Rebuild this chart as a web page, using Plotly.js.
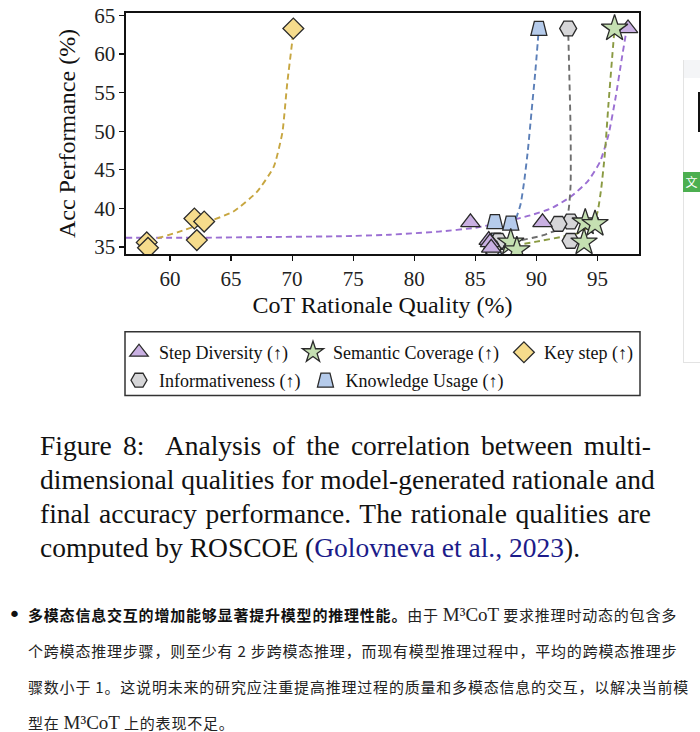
<!DOCTYPE html>
<html>
<head>
<meta charset="utf-8">
<script src="https://cdn.plot.ly/plotly-3.0.1.min.js"></script>
<style>
  html, body { margin:0; padding:0; background:#fff; width:700px; height:732px; overflow:hidden; }
  #chart { position:absolute; left:0; top:0; width:700px; height:410px; }
  #caption { position:absolute; left:40px; top:429px; width:611px; font-family:"Liberation Serif","Times New Roman",serif; font-size:27.5px; line-height:34px; color:#111; }
  #caption div { text-align:justify; text-align-last:justify; white-space:nowrap; }
  #caption div.last { text-align-last:left; }
  #caption .cite { color:#1c1c8a; }
  #para { position:absolute; left:28px; top:597px; width:660px; font-family:"Noto Sans CJK SC","Noto Sans",sans-serif; font-size:15px; line-height:36px; color:#222; letter-spacing:0.8px; }
  #para div { white-space:nowrap; }
  #para b { font-weight:700; color:#111; }
  #para .m { font-family:"Liberation Serif","Times New Roman",serif; font-size:19px; letter-spacing:0; margin:0 4px; }
  #bullet { position:absolute; left:8px; top:597px; font-size:22px; line-height:36px; font-family:"DejaVu Sans",sans-serif; color:#111; }
  .side { position:absolute; }
</style>
</head>
<body>
<div id="chart"></div>

<!-- right-side UI strip of the screenshot -->
<div class="side" style="left:683px; top:60px; width:17px; height:302px; border-left:1px solid #e3e3e3; border-bottom:1px solid #e3e3e3; background:#fff;"></div>
<div class="side" style="left:684px; top:60px; width:16px; height:18px; background:#f4f5f7;"></div>
<div class="side" style="left:698px; top:92px; width:2px; height:40px; background:#111;"></div>
<div class="side" style="left:683px; top:172px; width:17px; height:20px; background:#4caf50; color:#fff; font-family:'Noto Sans CJK SC',sans-serif; font-size:12px; line-height:20px; text-align:center;">文</div>

<div id="caption">
  <div>Figure 8:&nbsp; Analysis of the correlation between multi-</div>
  <div>dimensional qualities for model-generated rationale and</div>
  <div>final accuracy performance. The rationale qualities are</div>
  <div class="last">computed by ROSCOE (<span class="cite">Golovneva et al., 2023</span>).</div>
</div>

<div id="bullet">•</div>
<div id="para">
  <div><b>多模态信息交互的增加能够显著提升模型的推理性能。</b>由于<span class="m">M³CoT</span>要求推理时动态的包含多</div>
  <div>个跨模态推理步骤，则至少有 2 步跨模态推理，而现有模型推理过程中，平均的跨模态推理步</div>
  <div>骤数小于 1。这说明未来的研究应注重提高推理过程的质量和多模态信息的交互，以解决当前模</div>
  <div>型在<span class="m">M³CoT</span>上的表现不足。</div>
</div>

<script>
// ---------------- data ----------------
const seriesNames = ["Step Diversity (↑)", "Semantic Coverage (↑)", "Key step (↑)", "Informativeness (↑)", "Knowledge Usage (↑)"];

// scatter points: CoT rationale quality (x) vs accuracy (y)
const stepX = [97.5, 90.5, 84.6, 86.1, 86.2, 86.3];
const stepY = [63.3, 38.2, 38.2, 35.9, 35.6, 34.9];
const semX  = [96.4, 94.0, 94.8, 93.9, 87.9, 88.4];
const semY  = [63.3, 38.2, 38.0, 35.6, 35.6, 34.6];
const keyX  = [70.1, 62.0, 62.8, 62.2, 58.1, 58.2];
const keyY  = [63.3, 38.7, 38.3, 35.9, 35.6, 34.9];
const infoX = [92.6, 92.8, 91.8, 92.8, 86.9, 86.4];
const infoY = [63.3, 38.3, 38.0, 35.8, 35.8, 34.8];
const knowX = [90.2, 86.6, 87.9, 86.7, 86.6, 86.5];
const knowY = [63.3, 38.3, 38.1, 35.9, 35.6, 34.9];

// fitted dashed curves
const stepFitX = [56.4, 62, 68, 74, 78, 82, 85, 87.5, 89.5, 91.2, 92.8, 94.2, 95.2, 95.9, 96.5, 97.0, 97.4];
const stepFitY = [36.2, 36.2, 36.3, 36.4, 36.6, 37.0, 37.5, 38.3, 39.1, 40.0, 41.5, 43.5, 46.0, 49.5, 54.5, 59.5, 63.3];
const semFitX  = [88.2, 90.0, 92.0, 93.6, 94.6, 95.0, 95.3, 95.6, 95.9, 96.2, 96.4];
const semFitY  = [35.2, 35.7, 36.3, 36.9, 38.0, 39.5, 42.5, 47.0, 53.5, 59.5, 63.3];
const keyFitX  = [58.2, 58.9, 60.6, 63.0, 65.2, 67.1, 68.5, 69.2, 69.6, 70.0, 70.1];
const keyFitY  = [35.8, 36.1, 36.9, 38.2, 39.6, 42.1, 45.4, 49.8, 56.2, 61.5, 63.3];
const infoFitX = [86.4, 88.5, 90.5, 92.0, 92.6, 92.8, 92.8, 92.7, 92.6];
const infoFitY = [35.2, 35.8, 36.5, 37.5, 39.5, 43.0, 50.0, 57.0, 63.3];
const knowFitX = [87.9, 88.3, 88.7, 89.0, 89.3, 89.6, 89.9, 90.2];
const knowFitY = [37.6, 38.6, 40.5, 43.5, 47.5, 52.5, 57.5, 63.3];

const xTicks = [60, 65, 70, 75, 80, 85, 90, 95];
const yTicks = [35, 40, 45, 50, 55, 60, 65];

// ---------------- styles ----------------
const fill = { step:"#c9b0e2", sem:"#c5e0b2", key:"#f6dc8c", info:"#d6d6d8", know:"#b5cbeb" };
const lineC = { step:"#9b6fd3", sem:"#8a9a42", key:"#c7a640", info:"#6e6e6e", know:"#5b7fb8" };
const mline = { color:"#2a2a2a", width:1.3 };

function fit(x, y, c) {
  return { x:x, y:y, type:"scatter", mode:"lines", showlegend:false, hoverinfo:"skip",
           line:{ color:c, width:1.9, dash:"6px,4px", shape:"spline", smoothing:0.5 } };
}
function pts(name, x, y, sym, f, size, rank, leg) {
  return { x:x, y:y, type:"scatter", mode:"markers", name:name, legendrank:rank, legend:leg,
           marker:{ symbol:sym, size:size, color:f, line:mline } };
}

const data = [
  fit(stepFitX, stepFitY, lineC.step),
  fit(semFitX, semFitY, lineC.sem),
  fit(keyFitX, keyFitY, lineC.key),
  fit(infoFitX, infoFitY, lineC.info),
  fit(knowFitX, knowFitY, lineC.know),
  pts(seriesNames[4], knowX, knowY, "square", fill.know, 14, 2, "legend2"),
  pts(seriesNames[3], infoX, infoY, "hexagon2", fill.info, 17, 1, "legend2"),
  pts(seriesNames[0], stepX, stepY, "triangle-up", fill.step, 17, 1, "legend"),
  pts(seriesNames[1], semX, semY, "star", fill.sem, 20, 2, "legend"),
  pts(seriesNames[2], keyX, keyY, "diamond", fill.key, 16, 3, "legend")
];

const serif = "Liberation Serif, Times New Roman, serif";
const legFont = { family:serif, size:18, color:"#111" };
const legX = (119 - 126) / 513;
const layout = {
  width:700, height:410,
  margin:{ l:126, r:61, t:13, b:155 },
  paper_bgcolor:"rgba(0,0,0,0)", plot_bgcolor:"#fff",
  font:{ family:serif, color:"#111" },
  xaxis:{ range:[56.4, 98.4], tickvals:xTicks, ticks:"outside", ticklen:5, tickwidth:1.2, tickcolor:"#111",
          showline:true, linecolor:"#111", linewidth:1.6, mirror:true, showgrid:false, zeroline:false,
          tickfont:{ family:serif, size:21, color:"#222" },
          title:{ text:"CoT Rationale Quality (%)", font:{ family:serif, size:24, color:"#111" }, standoff:6 } },
  yaxis:{ range:[34.1, 65.3], tickvals:yTicks, ticks:"outside", ticklen:5, tickwidth:1.2, tickcolor:"#111",
          showline:true, linecolor:"#111", linewidth:1.6, mirror:true, showgrid:false, zeroline:false,
          tickfont:{ family:serif, size:21, color:"#222" },
          title:{ text:"Acc Performance (%)", font:{ family:serif, size:24, color:"#111" }, standoff:12 } },
  showlegend:true,
  legend:{ orientation:"h", x:legX, xanchor:"left", y:-(334-255)/242, yanchor:"top",
           bgcolor:"rgba(0,0,0,0)", borderwidth:0, font:legFont, itemwidth:30, traceorder:"normal" },
  legend2:{ orientation:"h", x:legX, xanchor:"left", y:-(362-255)/242, yanchor:"top",
           bgcolor:"rgba(0,0,0,0)", borderwidth:0, font:legFont, itemwidth:30, traceorder:"normal" },
  shapes:[{ type:"rect", xref:"paper", yref:"paper",
            x0:(125-126)/513, x1:(640-126)/513, y0:-(397-255)/242, y1:-(333-255)/242,
            line:{ color:"#333", width:1.5 }, fillcolor:"rgba(0,0,0,0)" }]
};

// reshape the "Knowledge Usage" square markers into trapezoids (positions stay from Plotly)
const trap = "M-8,7L8,7L4.5,-7L-4.5,-7Z";
function isSquare(d) {
  return /^M[\d.]+,[\d.]+H-[\d.]+V-[\d.]+H[\d.]+Z$/.test(d || "");
}
function fixTrap() {
  const gd = document.getElementById("chart");
  gd.querySelectorAll("path").forEach(p => {
    const d = p.getAttribute("d");
    if (d !== trap && isSquare(d)) p.setAttribute("d", trap);
  });
}

Plotly.newPlot("chart", data, layout, { displayModeBar:false, staticPlot:true }).then(function(gd) {
  fixTrap();
  gd.on("plotly_afterplot", fixTrap);
  const obs = new MutationObserver(fixTrap);
  obs.observe(gd, { subtree:true, childList:true, attributes:true, attributeFilter:["d"] });
  setTimeout(fixTrap, 30);
  setTimeout(fixTrap, 200);
});
</script>
</body>
</html>
